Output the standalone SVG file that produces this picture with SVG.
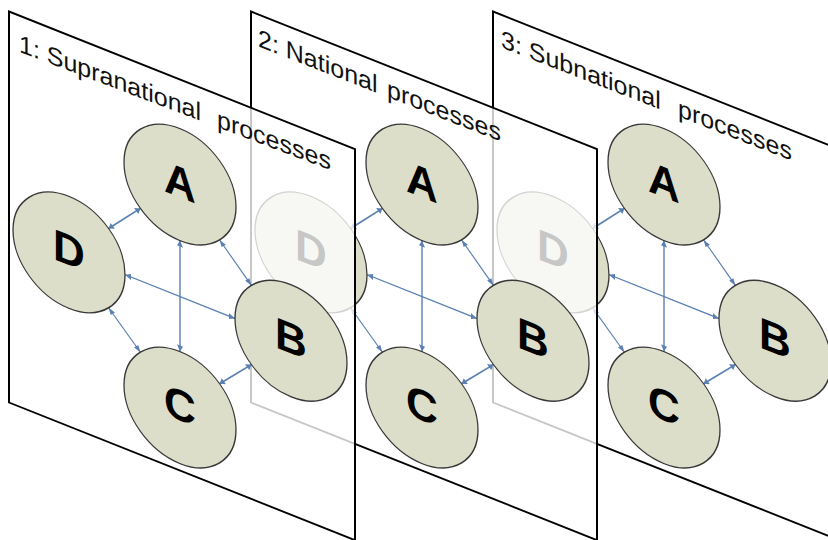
<svg xmlns="http://www.w3.org/2000/svg" width="828" height="540" viewBox="0 0 828 540">
  <style>
    .plane { fill: #ffffff; fill-opacity: 0.78; stroke: #000000; stroke-width: 2; stroke-linejoin: miter; }
    .back { fill-opacity: 1; }
    .label { font-family: "Liberation Sans", Arial, sans-serif; font-size: 25px; fill: #111111; }
    .node ellipse { fill: #dcdec9; stroke: #383838; stroke-width: 1.3; }
    .node text { font-family: "Liberation Sans", Arial, sans-serif; font-weight: bold; font-size: 44px; fill: #000000; text-anchor: middle; }
    .conn line { stroke: #5b80b2; stroke-width: 1.4; marker-start: url(#ah); marker-end: url(#ah); }
  </style>
  <defs>
    <marker id="ah" viewBox="0 0 10 10" refX="10" refY="5" markerWidth="8" markerHeight="6" orient="auto-start-reverse" markerUnits="userSpaceOnUse">
      <path d="M0,0 L10,5 L0,10 z" fill="#5b80b2"/>
    </marker>
  </defs>

  <!-- Plane 3 (back) -->
  <g id="plane3">
    <path class="plane back" transform="matrix(1 0.398 0 1 493 11.5)" d="M0,0 H346 V391 H0 Z"/>
    <text class="label" transform="matrix(1 0.39 0 1 501 47.3)">3: Subnational<tspan x="177">processes</tspan></text>
    <g transform="matrix(1 0.398 0 1 493 11.5)">
      <g id="p3-connectors" class="conn">
        <line x1="171" y1="161" x2="171" y2="272"/>
        <line x1="116" y1="217" x2="226" y2="217"/>
        <line x1="131.4" y1="144.6" x2="99.6" y2="177.4"/>
        <line x1="210.6" y1="144.6" x2="242.4" y2="177.4"/>
        <line x1="99.6" y1="256.6" x2="131.4" y2="288.4"/>
        <line x1="242.4" y1="256.6" x2="210.6" y2="288.4"/>
      </g>
      <g id="p3-A" class="node"><ellipse cx="171" cy="105" rx="56" ry="56"/><text x="171" y="117.7">A</text></g>
      <g id="p3-B" class="node"><ellipse cx="282" cy="217" rx="56" ry="56"/><text x="282" y="229.7">B</text></g>
      <g id="p3-C" class="node"><ellipse cx="171" cy="328" rx="56" ry="56"/><text x="171" y="340.7">C</text></g>
      <g id="p3-D" class="node"><ellipse cx="60" cy="217" rx="56" ry="56"/><text x="60" y="229.7">D</text></g>
    </g>
  </g>

  <!-- Plane 2 (middle) -->
  <g id="plane2">
    <path class="plane" transform="matrix(1 0.398 0 1 251 11.5)" d="M0,0 H346 V391 H0 Z"/>
    <text class="label" transform="matrix(1 0.392 0 1 258 46.3)">2: National<tspan x="129">processes</tspan></text>
    <g transform="matrix(1 0.398 0 1 251 11.5)">
      <g id="p2-connectors" class="conn">
        <line x1="171" y1="161" x2="171" y2="272"/>
        <line x1="116" y1="217" x2="226" y2="217"/>
        <line x1="131.4" y1="144.6" x2="99.6" y2="177.4"/>
        <line x1="210.6" y1="144.6" x2="242.4" y2="177.4"/>
        <line x1="99.6" y1="256.6" x2="131.4" y2="288.4"/>
        <line x1="242.4" y1="256.6" x2="210.6" y2="288.4"/>
      </g>
      <g id="p2-A" class="node"><ellipse cx="171" cy="105" rx="56" ry="56"/><text x="171" y="117.7">A</text></g>
      <g id="p2-B" class="node"><ellipse cx="282" cy="217" rx="56" ry="56"/><text x="282" y="229.7">B</text></g>
      <g id="p2-C" class="node"><ellipse cx="171" cy="328" rx="56" ry="56"/><text x="171" y="340.7">C</text></g>
      <g id="p2-D" class="node"><ellipse cx="60" cy="217" rx="56" ry="56"/><text x="60" y="229.7">D</text></g>
    </g>
  </g>

  <!-- Plane 1 (front) -->
  <g id="plane1">
    <path class="plane" transform="matrix(1 0.398 0 1 9 11.5)" d="M0,0 H346 V391 H0 Z"/>
    <text class="label" transform="matrix(1 0.38 0 1 19 51.7)">1: Supranational<tspan x="198">processes</tspan></text>
    <g transform="matrix(1 0.398 0 1 9 11.5)">
      <g id="p1-connectors" class="conn">
        <line x1="171" y1="161" x2="171" y2="272"/>
        <line x1="116" y1="217" x2="226" y2="217"/>
        <line x1="131.4" y1="144.6" x2="99.6" y2="177.4"/>
        <line x1="210.6" y1="144.6" x2="242.4" y2="177.4"/>
        <line x1="99.6" y1="256.6" x2="131.4" y2="288.4"/>
        <line x1="242.4" y1="256.6" x2="210.6" y2="288.4"/>
      </g>
      <g id="p1-A" class="node"><ellipse cx="171" cy="105" rx="56" ry="56"/><text x="171" y="117.7">A</text></g>
      <g id="p1-B" class="node"><ellipse cx="282" cy="217" rx="56" ry="56"/><text x="282" y="229.7">B</text></g>
      <g id="p1-C" class="node"><ellipse cx="171" cy="328" rx="56" ry="56"/><text x="171" y="340.7">C</text></g>
      <g id="p1-D" class="node"><ellipse cx="60" cy="217" rx="56" ry="56"/><text x="60" y="229.7">D</text></g>
    </g>
  </g>
</svg>
